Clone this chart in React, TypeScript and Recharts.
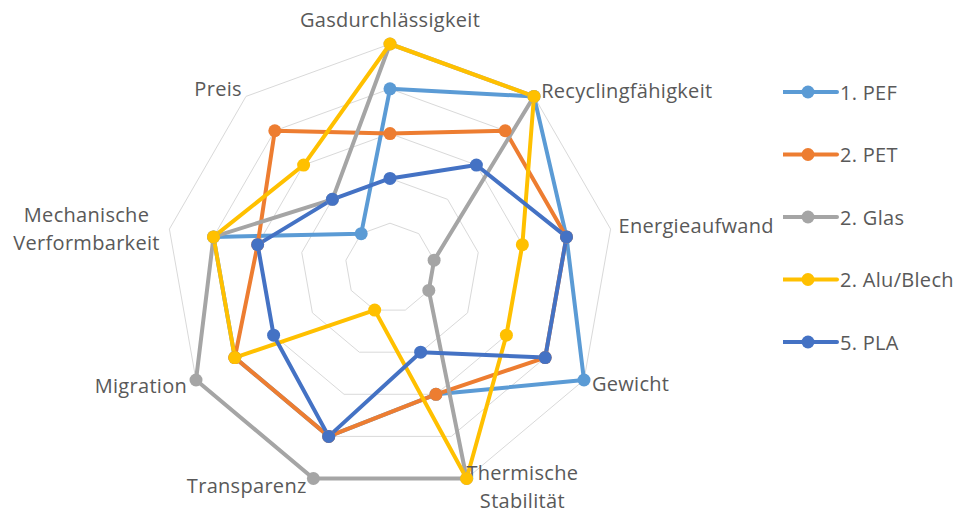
import React from "react";
import { RadarChart, Radar, PolarGrid, PolarAngleAxis, PolarRadiusAxis, Legend } from "recharts";

const categories = [
  "Gasdurchlässigkeit",
  "Recyclingfähigkeit",
  "Energieaufwand",
  "Gewicht",
  "Thermische Stabilität",
  "Transparenz",
  "Migration",
  "Mechanische Verformbarkeit",
  "Preis",
];

const pef = [4, 5, 4, 5, 3, 4, 4, 4, 1];
const pet = [3, 4, 4, 4, 3, 4, 4, 3, 4];
const glas = [5, 5, 1, 1, 5, 5, 5, 4, 2];
const alu = [5, 5, 3, 3, 5, 1, 4, 4, 3];
const pla = [2, 3, 4, 4, 2, 4, 3, 3, 2];

const seriesNames = ["1. PEF", "2. PET", "2. Glas", "2. Alu/Blech", "5. PLA"];
const seriesValues = [pef, pet, glas, alu, pla];
const seriesColors = ["#5B9BD5", "#ED7D31", "#A5A5A5", "#FFC000", "#4472C4"];

const data = categories.map((c, i) => {
  const row: Record<string, any> = { category: c };
  seriesNames.forEach((n, s) => {
    row[n] = seriesValues[s][i];
  });
  return row;
});

const FONT = "'Open Sans', sans-serif";
const TEXT_COLOR = "#595959";
const FONT_SIZE = 20;
const LETTER_SPACING = 0.3;

// label placement style per axis (relative to recharts tick anchor)
const labelStyle = [
  { anchor: "middle", dx: 0, dy: -17 },
  { anchor: "start", dx: 2, dy: 0 },
  { anchor: "start", dx: 0, dy: -2 },
  { anchor: "start", dx: 1, dy: -1 },
  { anchor: "middle", dx: 53, dy: 0 },
  { anchor: "end", dx: -4, dy: -1 },
  { anchor: "end", dx: -2, dy: 1 },
  { anchor: "middle", dx: -75, dy: 1 },
  { anchor: "end", dx: 1, dy: -2 },
];

const AngleTick = (props: any) => {
  const { x, y, payload, index } = props;
  const st = labelStyle[index] || { anchor: "middle", dx: 0, dy: 0 };
  const text: string = payload.value;
  const multi = text.startsWith("Thermische") || text.startsWith("Mechanische");
  const lines = multi ? text.split(" ") : [text];
  const lh = 28;
  return (
    <text
      x={x + st.dx}
      y={y + st.dy}
      textAnchor={st.anchor}
      fontFamily={FONT}
      fontSize={FONT_SIZE}
      letterSpacing={LETTER_SPACING}
      fill={TEXT_COLOR}
    >
      {lines.map((l, i) => (
        <tspan
          key={i}
          x={x + st.dx}
          y={y + st.dy + (i - (lines.length - 1) / 2) * lh}
          dominantBaseline="central"
        >
          {l}
        </tspan>
      ))}
    </text>
  );
};

const LegendContent = () => (
  <svg width={174} height={290}>
    {seriesNames.map((n, i) => {
      const yy = 12 + i * 62.5;
      return (
        <g key={n}>
          <line x1={0} x2={54} y1={yy} y2={yy} stroke={seriesColors[i]} strokeWidth={4} strokeLinecap="round" />
          <circle cx={25} cy={yy} r={6.5} fill={seriesColors[i]} />
          <text
            x={57}
            y={yy}
            dominantBaseline="central"
            fontFamily={FONT}
            fontSize={FONT_SIZE}
            letterSpacing={LETTER_SPACING}
            fill={TEXT_COLOR}
          >
            {n}
          </text>
        </g>
      );
    })}
  </svg>
);

export default function App() {
  return (
    <div style={{ position: "absolute", left: 0, top: 0, width: 957, height: 513, background: "#fff", overflow: "hidden" }}>
      <RadarChart
        width={957}
        height={513}
        data={data}
        cx={390}
        cy={268}
        outerRadius={224}
        margin={{ top: 0, right: 0, bottom: 0, left: 0 }}
      >
        <PolarGrid gridType="polygon" radialLines={false} stroke="#D9D9D9" strokeWidth={1} />
        <PolarAngleAxis dataKey="category" tick={<AngleTick />} tickLine={false} axisLine={false} />
        <PolarRadiusAxis domain={[0, 5]} tickCount={6} tick={false} axisLine={false} />
        {seriesNames.map((n, i) => (
          <Radar
            key={n}
            name={n}
            dataKey={n}
            stroke={seriesColors[i]}
            strokeWidth={4}
            strokeLinejoin="round"
            fill="none"
            fillOpacity={0}
            dot={{ r: 6.5, fill: seriesColors[i], stroke: "none", fillOpacity: 1 }}
            isAnimationActive={false}
          />
        ))}
        <Legend
          layout="vertical"
          content={<LegendContent />}
          wrapperStyle={{ position: "absolute", left: 783, top: 80, width: 174, height: 290 }}
        />
      </RadarChart>
    </div>
  );
}
